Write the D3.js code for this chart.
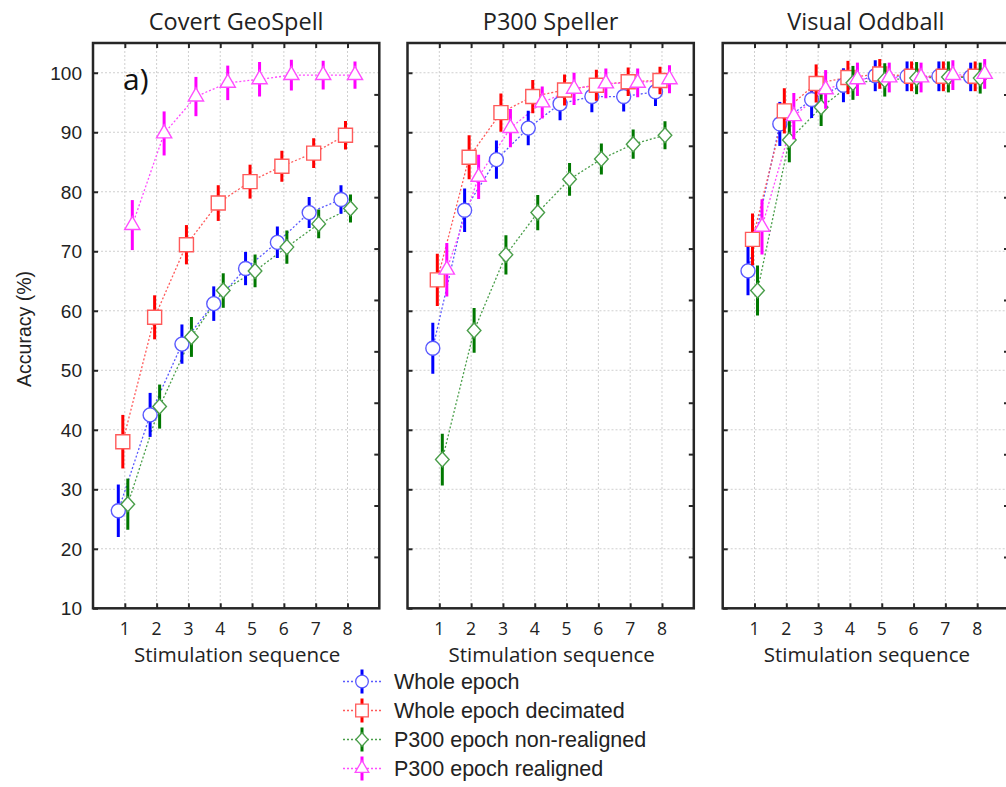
<!DOCTYPE html>
<html>
<head>
<meta charset="utf-8">
<script src="https://cdn.jsdelivr.net/npm/d3@7"></script>
<style>
  html, body { margin: 0; padding: 0; background: #fff; }
  svg { display: block; }
</style>
</head>
<body>
<svg id="chart" width="1006" height="787"></svg>
<script>
// ---------------- DATA ----------------
const panelTitles = ["Covert GeoSpell", "P300 Speller", "Visual Oddball"];
const seriesNames = ["Whole epoch", "Whole epoch decimated", "P300 epoch non-realigned", "P300 epoch realigned"];
const xTicks = [1, 2, 3, 4, 5, 6, 7, 8];
const yTicks = [10, 20, 30, 40, 50, 60, 70, 80, 90, 100];
const rightTicks = [1, 2, 3, 4, 5, 6, 7, 8, 9, 10];

// Covert GeoSpell
const geoWhole        = [26.4, 42.5, 54.4, 61.2, 67.1, 71.5, 76.5, 78.7];
const geoWholeErr     = [4.4, 3.7, 3.3, 2.9, 2.8, 2.65, 2.6, 2.4];
const geoDecim        = [38.0, 58.9, 71.1, 78.1, 81.7, 84.3, 86.5, 89.5];
const geoDecimErr     = [4.5, 3.7, 3.3, 3.0, 2.85, 2.6, 2.5, 2.4];
const geoNonReal      = [27.5, 43.9, 55.6, 63.4, 66.7, 70.7, 74.6, 77.2];
const geoNonRealErr   = [4.3, 3.7, 3.35, 2.9, 2.75, 2.8, 2.4, 2.35];
const geoReal         = [74.4, 89.8, 96.0, 98.3, 98.9, 99.6, 99.6, 99.6];
const geoRealErr      = [4.2, 3.7, 3.3, 2.9, 2.9, 2.6, 2.4, 2.3];

// P300 Speller
const spWhole         = [53.7, 76.9, 85.4, 90.7, 94.8, 96.0, 96.0, 96.8];
const spWholeErr      = [4.3, 3.65, 3.2, 2.9, 2.8, 2.65, 2.5, 2.4];
const spDecim         = [65.2, 85.8, 93.3, 96.0, 97.1, 97.9, 98.5, 98.7];
const spDecimErr      = [4.4, 3.7, 3.2, 2.8, 2.6, 2.6, 2.4, 2.3];
const spNonReal       = [35.0, 56.7, 69.4, 76.5, 82.1, 85.5, 88.0, 89.5];
const spNonRealErr    = [4.35, 3.75, 3.3, 2.95, 2.75, 2.6, 2.45, 2.35];
const spReal          = [66.9, 82.5, 90.7, 95.0, 97.3, 98.2, 98.3, 98.9];
const spRealErr       = [4.5, 3.7, 3.2, 2.7, 2.7, 2.5, 2.4, 2.35];

// Visual Oddball
const voWhole         = [66.7, 91.4, 95.5, 97.9, 99.5, 99.4, 99.4, 99.3];
const voWholeErr      = [4.1, 3.7, 3.1, 2.85, 2.6, 2.5, 2.5, 2.4];
const voDecim         = [72.0, 93.6, 98.2, 99.2, 99.8, 99.4, 99.4, 99.4];
const voDecimErr      = [4.35, 3.8, 3.2, 2.8, 2.5, 2.5, 2.5, 2.5];
const voNonReal       = [63.4, 88.7, 94.2, 98.3, 98.8, 99.1, 99.3, 99.1];
const voNonRealErr    = [4.2, 3.75, 3.15, 2.85, 2.8, 2.7, 2.6, 2.6];
const voReal          = [74.1, 92.7, 97.2, 98.9, 99.2, 99.2, 99.6, 99.8];
const voRealErr       = [4.65, 3.9, 3.25, 2.8, 2.5, 2.5, 2.5, 2.5];

const panelMeans = [
  [geoWhole, geoDecim, geoNonReal, geoReal],
  [spWhole, spDecim, spNonReal, spReal],
  [voWhole, voDecim, voNonReal, voReal]
];
const panelErrs = [
  [geoWholeErr, geoDecimErr, geoNonRealErr, geoRealErr],
  [spWholeErr, spDecimErr, spNonRealErr, spRealErr],
  [voWholeErr, voDecimErr, voNonRealErr, voRealErr]
];

// ---------------- STYLE / LAYOUT ----------------
const markerStroke = ["#5a5aff", "#ff5a5a", "#4a9e4a", "#ff4cff"];
const barColor     = ["#0000ff", "#ff0000", "#007800", "#ff00ff"];
const shapes       = ["circle", "square", "diamond", "triangle"];
const dodgePx      = [-6.5, -2, 3, 7.5];

const panelLeft = [93, 407.5, 722.7];
const panelW = 286.3;
const plotTop = 43, plotBottom = 608.3;
const frameColor = "#262626";
const textColor = "#222";

const svg = d3.select("#chart");

function shapePath(type, s) {
  const p = d3.path();
  if (type === "circle") {
    p.arc(0, 0, 7 * s, 0, 2 * Math.PI);
  } else if (type === "square") {
    const h = 7 * s;
    p.rect(-h, -h, 2 * h, 2 * h);
  } else if (type === "diamond") {
    p.moveTo(0, -7.5 * s); p.lineTo(6.8 * s, 0); p.lineTo(0, 7.5 * s); p.lineTo(-6.8 * s, 0); p.closePath();
  } else {
    p.moveTo(0, -8.8 * s); p.lineTo(7.6 * s, 4.4 * s); p.lineTo(-7.6 * s, 4.4 * s); p.closePath();
  }
  return p.toString();
}

panelTitles.forEach((title, pi) => {
  const x = d3.scaleLinear().domain([0, 9]).range([panelLeft[pi], panelLeft[pi] + panelW]);
  const y = d3.scaleLinear().domain([10, 105]).range([plotBottom, plotTop]);
  const yR = d3.scaleLinear().domain([0, 11]).range([plotBottom, plotTop]);
  const g = svg.append("g");

  // grid
  g.append("g").selectAll("line").data(xTicks).join("line")
    .attr("x1", d => x(d)).attr("x2", d => x(d))
    .attr("y1", plotTop).attr("y2", plotBottom)
    .attr("stroke", "#cfcfcf").attr("stroke-width", 1).attr("stroke-dasharray", "2,2");
  g.append("g").selectAll("line").data(yTicks.filter(d => d > 10)).join("line")
    .attr("x1", x(0)).attr("x2", x(9))
    .attr("y1", d => y(d)).attr("y2", d => y(d))
    .attr("stroke", "#cfcfcf").attr("stroke-width", 1).attr("stroke-dasharray", "2,2");

  // axes with inward ticks
  const axB = g.append("g").attr("transform", `translate(0,${plotBottom})`)
    .call(d3.axisBottom(x).tickValues(xTicks).tickSizeInner(-5).tickSizeOuter(0).tickFormat(""));
  const axT = g.append("g").attr("transform", `translate(0,${plotTop})`)
    .call(d3.axisTop(x).tickValues(xTicks).tickSizeInner(-5).tickSizeOuter(0).tickFormat(""));
  const axL = g.append("g").attr("transform", `translate(${x(0)},0)`)
    .call(d3.axisLeft(y).tickValues(yTicks).tickSizeInner(-5).tickSizeOuter(0).tickFormat(""));
  const axR = g.append("g").attr("transform", `translate(${x(9)},0)`)
    .call(d3.axisRight(yR).tickValues(rightTicks).tickSizeInner(-5).tickSizeOuter(0).tickFormat(""));
  [axB, axT, axL, axR].forEach(a => {
    a.select(".domain").remove();
    a.selectAll(".tick line").attr("stroke", frameColor).attr("stroke-width", 2);
  });

  // frame
  g.append("rect").attr("x", x(0)).attr("y", plotTop)
    .attr("width", x(9) - x(0)).attr("height", plotBottom - plotTop)
    .attr("fill", "none").attr("stroke", frameColor).attr("stroke-width", 2.5);

  // x tick labels
  g.append("g").selectAll("text").data(xTicks).join("text")
    .attr("x", d => x(d)).attr("y", 634.5)
    .attr("text-anchor", "middle")
    .attr("font-family", "'Open Sans', 'Noto Sans', sans-serif")
    .attr("font-size", 17.5).attr("fill", textColor)
    .text(d => d);

  // x title
  g.append("text")
    .attr("x", (x(0) + x(9)) / 2 + 1).attr("y", 661.5)
    .attr("text-anchor", "middle")
    .attr("font-family", "'Open Sans', 'Noto Sans', sans-serif")
    .attr("font-size", 20.5).attr("fill", textColor)
    .text("Stimulation sequence");

  // panel title
  g.append("text")
    .attr("x", (x(0) + x(9)) / 2).attr("y", 29.5)
    .attr("text-anchor", "middle")
    .attr("font-family", "'Open Sans', 'Noto Sans', sans-serif")
    .attr("font-size", 23.5).attr("fill", textColor)
    .text(title);

  if (pi === 0) {
    g.append("g").selectAll("text").data(yTicks).join("text")
      .attr("x", 82).attr("y", d => y(d))
      .attr("dy", "0.36em")
      .attr("text-anchor", "end")
      .attr("font-family", "'Liberation Sans', Arial, sans-serif")
      .attr("font-size", 19).attr("fill", textColor)
      .text(d => d);
    g.append("text")
      .attr("transform", `translate(31,329) rotate(-90)`)
      .attr("text-anchor", "middle")
      .attr("font-family", "'Liberation Sans', Arial, sans-serif")
      .attr("font-size", 19.5).attr("fill", textColor)
      .text("Accuracy (%)");
    g.append("text")
      .attr("x", 123).attr("y", 90)
      .attr("font-family", "'Open Sans', 'Noto Sans', sans-serif")
      .attr("font-size", 30).attr("fill", "#111")
      .text("a)");
  }

  const clipId = "clip" + pi;
  svg.append("clipPath").attr("id", clipId).append("rect")
    .attr("x", x(0)).attr("y", 0).attr("width", x(9) - x(0)).attr("height", plotBottom);
  const dg = g.append("g").attr("clip-path", `url(#${clipId})`);

  const means = panelMeans[pi], errs = panelErrs[pi];
  means.forEach((vals, si) => {
    const line = d3.line().x((d, i) => x(xTicks[i]) + dodgePx[si]).y(d => y(d));
    dg.append("path").datum(vals)
      .attr("d", line).attr("fill", "none")
      .attr("stroke", markerStroke[si]).attr("stroke-width", 1.3)
      .attr("stroke-dasharray", "2,2");
  });
  means.forEach((vals, si) => {
    const sg = dg.append("g");
    sg.selectAll("line").data(vals).join("line")
      .attr("x1", (d, i) => x(xTicks[i]) + dodgePx[si])
      .attr("x2", (d, i) => x(xTicks[i]) + dodgePx[si])
      .attr("y1", (d, i) => y(d + errs[si][i]))
      .attr("y2", (d, i) => y(d - errs[si][i]))
      .attr("stroke", barColor[si]).attr("stroke-width", 3);
    sg.selectAll("path").data(vals).join("path")
      .attr("transform", (d, i) => `translate(${x(xTicks[i]) + dodgePx[si]},${y(d)})`)
      .attr("d", shapePath(shapes[si], 1))
      .attr("fill", "#fff")
      .attr("stroke", markerStroke[si]).attr("stroke-width", 1.4);
  });
});

// ---------------- LEGEND ----------------
const legendY = d3.scalePoint().domain(seriesNames).range([681.5, 768.5]);
const lg = svg.append("g");
seriesNames.forEach((name, si) => {
  const cy = legendY(name);
  const cx = 362;
  lg.append("line").attr("x1", 343).attr("x2", 381).attr("y1", cy).attr("y2", cy)
    .attr("stroke", markerStroke[si]).attr("stroke-width", 1.3).attr("stroke-dasharray", "2,2");
  lg.append("line").attr("x1", cx).attr("x2", cx).attr("y1", cy - 12).attr("y2", cy + 12)
    .attr("stroke", barColor[si]).attr("stroke-width", 3);
  lg.append("path").attr("transform", `translate(${cx},${cy})`)
    .attr("d", shapePath(shapes[si], 0.9))
    .attr("fill", "#fff").attr("stroke", markerStroke[si]).attr("stroke-width", 1.3);
  lg.append("text").attr("x", 394).attr("y", cy).attr("dy", "0.36em")
    .attr("font-family", "'Liberation Sans', Arial, sans-serif")
    .attr("font-size", 21.5).attr("fill", textColor)
    .text(name);
});
</script>
</body>
</html>
